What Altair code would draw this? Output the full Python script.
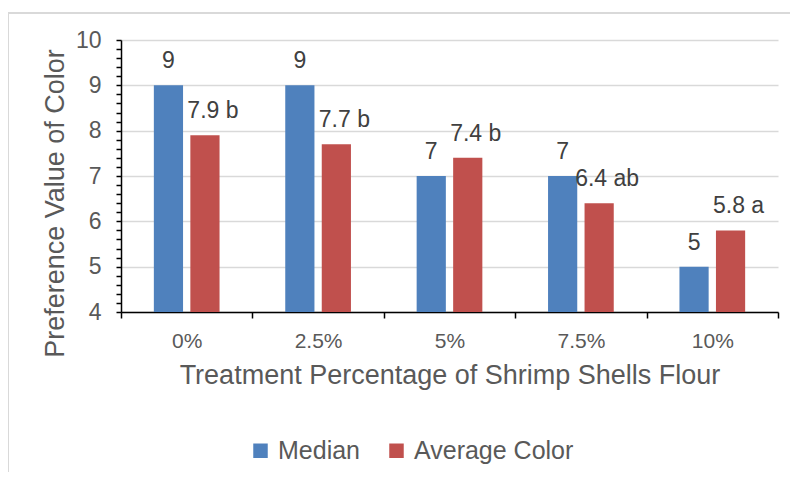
import altair as alt
import pandas as pd

categories = ["0%", "2.5%", "5%", "7.5%", "10%"]
series = ["Median", "Average Color"]
median = [9, 9, 7, 7, 5]
average = [7.9, 7.7, 7.4, 6.4, 5.8]
avg_letters = ["b", "b", "b", "ab", "a"]
colors = ["#4f81bd", "#c0504d"]

rows = []
for c, m, a, l in zip(categories, median, average, avg_letters):
    rows.append({"category": c, "series": "Median", "value": m, "label": f"{m}"})
    rows.append({"category": c, "series": "Average Color", "value": a, "label": f"{a} {l}"})
df = pd.DataFrame(rows)

FONT = "Liberation Sans"
TXT = "#595959"
y_ticks = [round(4 + 0.2 * i, 1) for i in range(31)]

x_enc = alt.X(
    "category:N", sort=categories,
    scale=alt.Scale(paddingInner=0, paddingOuter=0),
    axis=alt.Axis(
        title="Treatment Percentage of Shrimp Shells Flour",
        labelAngle=0, tickBand="extent", grid=False,
        domainColor="black", domainWidth=1.5, tickColor="black", tickWidth=1.5, tickSize=6,
        labelFont=FONT, labelFontSize=21, labelColor=TXT, labelPadding=12,
        titleFont=FONT, titleFontSize=27, titleColor=TXT, titleFontWeight="normal", titlePadding=11,
    ),
)
xo_enc = alt.XOffset("series:N", sort=series, scale=alt.Scale(domain=series, paddingInner=0.2, paddingOuter=0.9))
is_int = "abs(datum.value - round(datum.value)) < 0.01"
y_axis = alt.Axis(
    title="Preference Value of Color", values=y_ticks,
    labelExpr=f"{is_int} ? format(datum.value, 'd') : ''",
    gridOpacity={"condition": {"test": is_int, "value": 1}, "value": 0},
    gridColor="#d9d9d9", gridWidth=1.5,
    domainColor="black", domainWidth=1.5, tickColor="black", tickWidth=1.5, tickSize=5,
    labelFont=FONT, labelFontSize=23, labelColor=TXT, labelPadding=15,
    titleFont=FONT, titleFontSize=27, titleColor=TXT, titleFontWeight="normal",
    titleX=-66, titleY=163, titleBaseline="middle", titleAlign="center", titleAngle=270,
)
y_scale = alt.Scale(domain=[4, 10], nice=False, zero=False)
y_enc = alt.Y("value:Q", scale=y_scale, axis=y_axis)

base = alt.Chart(df)
bars = base.mark_bar().encode(
    x=x_enc, xOffset=xo_enc, y=y_enc,
    y2=alt.datum(4),
    color=alt.Color(
        "series:N", sort=series, scale=alt.Scale(domain=series, range=colors),
        legend=alt.Legend(
            title=None, orient="none", direction="horizontal", legendX=127, legendY=398,
            symbolType="square", symbolSize=210, symbolStrokeWidth=0,
            labelFont=FONT, labelFontSize=25, labelColor=TXT, columnPadding=24, labelOffset=5,
        ),
    ),
)

txt_med = base.transform_filter(alt.datum.series == "Median").mark_text(
    baseline="middle", dy=-24, font=FONT, fontSize=23, color="#404040"
).encode(x=x_enc, xOffset=xo_enc, y=y_enc, text="label:N")

txt_avg = base.transform_filter(alt.datum.series == "Average Color").mark_text(
    baseline="middle", dy=-24, dx=8, font=FONT, fontSize=23, color="#404040"
).encode(x=x_enc, xOffset=xo_enc, y=y_enc, text="label:N")

frame = alt.Chart(alt.Data(values=[{}])).mark_rect(fill=None, stroke="#d9d9d9", strokeWidth=2).encode(
    x=alt.value(-113), x2=alt.value(900), y=alt.value(-27), y2=alt.value(700)
)

chart = alt.layer(frame, bars, txt_med, txt_avg).properties(
    width=657, height=272,
    autosize=alt.AutoSizeParams(type="none"),
    padding={"left": 113, "top": 32, "right": 12, "bottom": 160},
).configure_view(stroke=None)

chart.save("out.html", embed_options={"renderer": "svg", "actions": False})
